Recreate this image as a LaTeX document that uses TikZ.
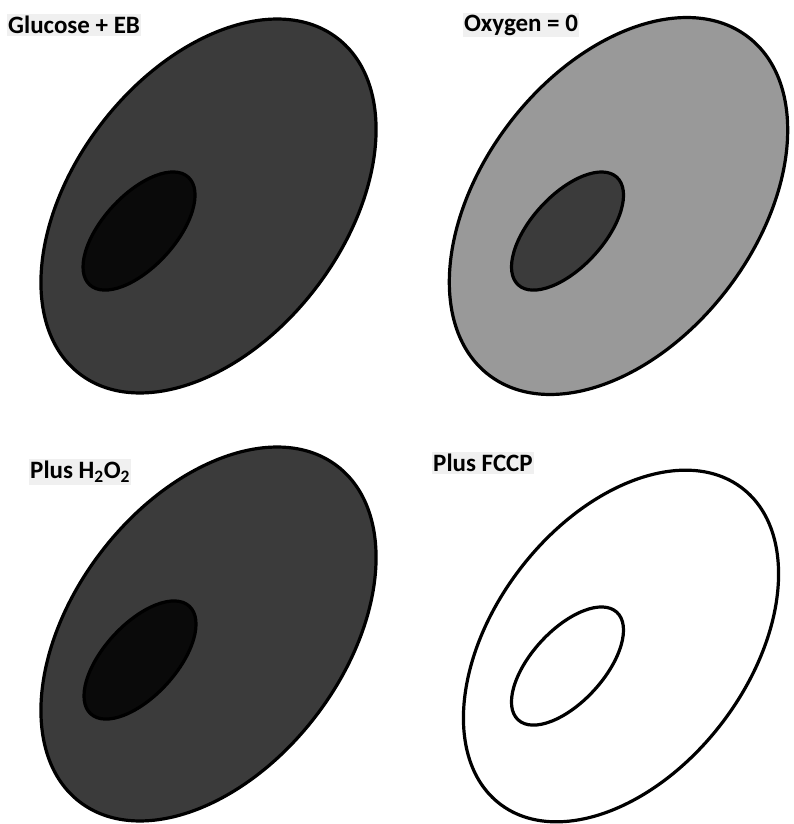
\documentclass[tikz,border=0pt]{standalone}
\usepackage{fontspec}
\setmainfont{Carlito}
\begin{document}
\begin{tikzpicture}[x=1pt,y=1pt,
  wall/.style={draw=black, line width=3.2pt},
  nucleus/.style={draw=black, line width=3.2pt},
  panellabel/.style={anchor=west, font=\bfseries\fontsize{25}{27}\selectfont,
    fill=black!6, inner xsep=1pt, inner ysep=2pt, text=black}]
\definecolor{cytodark}{gray}{0.23}
\definecolor{cytolight}{gray}{0.60}
\definecolor{nucdark}{gray}{0.04}
\useasboundingbox (0,0) rectangle (794,824);

% cell and nucleus centres
\coordinate (c1) at (208.5,618);
\coordinate (n1) at (139,593);
\coordinate (c2) at (618.5,618);
\coordinate (n2) at (567.5,593);
\coordinate (c3) at (208.5,190);
\coordinate (n3) at (140,164);
\coordinate (c4) at (621,178);
\coordinate (n4) at (567.5,158);

% Glucose + EB
\path[wall, fill=cytodark, rotate around={52.5:(c1)}] (c1) ellipse [x radius=211.6pt, y radius=135.1pt];
\path[nucleus, fill=nucdark, rotate around={47.5:(n1)}] (n1) ellipse [x radius=73pt, y radius=36pt];
\node[panellabel] (l1) at (7,799) {Glucose + EB};

% Oxygen = 0
\path[wall, fill=cytolight, rotate around={52.5:(c2)}] (c2) ellipse [x radius=213pt, y radius=137pt];
\path[nucleus, fill=cytodark, rotate around={47.5:(n2)}] (n2) ellipse [x radius=73pt, y radius=36pt];
\node[panellabel] (l2) at (463,799) {Oxygen = 0};

% Plus H2O2
\path[wall, fill=cytodark, rotate around={52.5:(c3)}] (c3) ellipse [x radius=211.6pt, y radius=135.1pt];
\path[nucleus, fill=nucdark, rotate around={47.5:(n3)}] (n3) ellipse [x radius=73pt, y radius=36pt];
\node[panellabel] (l3) at (29,352) {Plus H\textsubscript{2}O\textsubscript{2}};

% Plus FCCP
\path[wall, fill=white, rotate around={52.5:(c4)}] (c4) ellipse [x radius=199pt, y radius=127pt];
\path[nucleus, fill=white, rotate around={47.5:(n4)}] (n4) ellipse [x radius=73pt, y radius=36pt];
\node[panellabel] (l4) at (432,361) {Plus FCCP};
\end{tikzpicture}
\end{document}
